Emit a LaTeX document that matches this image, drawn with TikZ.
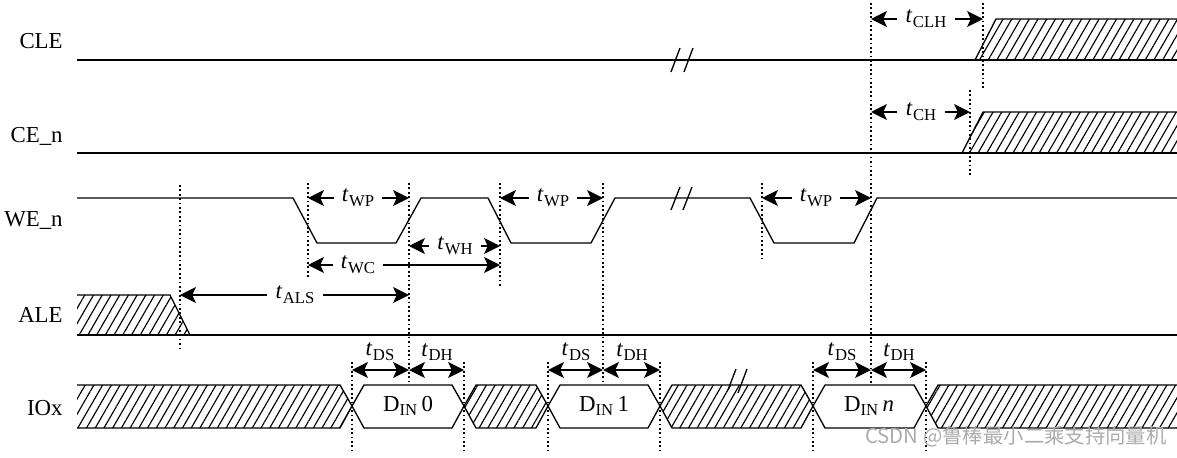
\documentclass[tikz,border=0pt]{standalone}
\usepackage{fontspec}
\setmainfont{Liberation Serif}
\newfontfamily\cjkfont{Noto Sans CJK SC}
\usetikzlibrary{arrows.meta,patterns.meta}

\newcommand{\tsub}[1]{\textit{t}\kern0.3pt\raisebox{-0.45ex}{\fontsize{9.5}{10}\selectfont #1}}
\newcommand{\din}[1]{D\raisebox{-0.45ex}{\fontsize{9.5}{10}\selectfont IN}\kern2.5pt#1}

\tikzset{
	wave/.style={line width=0.75pt},
	busline/.style={line width=1.5pt},
	tmark/.style={line width=1.1pt, dash pattern=on 1pt off 1.5pt},
	hatched/.style={pattern={Lines[angle=60,distance=4.3pt,line width=0.65pt]}},
	dimarrow/.style={line width=1.2pt, -{Stealth[length=9pt,width=9pt,inset=2pt]}},
	dimboth/.style={line width=1.2pt, {Stealth[length=9pt,width=9pt,inset=2pt]}-{Stealth[length=9pt,width=9pt,inset=2pt]}},
	signame/.style={anchor=base east, inner xsep=0pt, font=\fontsize{13}{15}\selectfont},
	tlabel/.style={inner xsep=4.5pt, inner ysep=1pt, font=\fontsize{13}{15}\selectfont}
}

\begin{document}
\begin{tikzpicture}[x=0.02cm, y=-0.02cm]
	\useasboundingbox (0,0) rectangle (1177,457);

	% Signal names
	\node[signame] (cle) at (63,48) {CLE};
	\node[signame] (cen) at (63,142) {CE\_n};
	\node[signame] (wen) at (63,226) {WE\_n};
	\node[signame] (ale) at (63,322) {ALE};
	\node[signame] (iox) at (63,415) {IOx};

	% Timing marks
	\coordinate (mA) at (180,0);
	\coordinate (mB) at (308,0);
	\coordinate (mC) at (409,0);
	\coordinate (mD) at (500,0);
	\coordinate (mE) at (603,0);
	\coordinate (mF) at (762,0);
	\coordinate (mG) at (871,0);
	\coordinate (mH) at (983,0);
	\coordinate (mI) at (970,0);

	% CLE: low, then don't care
	\fill[hatched] (975,60) -- (996,19) -- (1177,19) -- (1177,60) -- cycle;
	\draw[wave] (975,60) -- (996,19) -- (1177,19);
	\draw[busline] (77,60) -- (1177,60);
	\draw[wave] (671,72) -- (680,48);
	\draw[wave] (684,72) -- (693,48);

	% CE_n: low, then don't care
	\fill[hatched] (962,153) -- (983,112) -- (1177,112) -- (1177,153) -- cycle;
	\draw[wave] (962,153) -- (983,112) -- (1177,112);
	\draw[busline] (77,153) -- (1177,153);

	% WE_n: write pulses
	\draw[wave] (77,198) -- (293,198) -- (317,243) -- (396,243) -- (421,198) -- (488,198)
		-- (511,243) -- (591,243) -- (615,198) -- (750,198) -- (774,243) -- (854,243)
		-- (877,198) -- (1177,198);
	\draw[wave] (671,210) -- (680,187);
	\draw[wave] (683,210) -- (692,187);

	% ALE: don't care, then low
	\fill[hatched] (77,295) -- (170,295) -- (190,335) -- (77,335) -- cycle;
	\draw[wave] (77,295) -- (170,295) -- (190,335);
	\draw[busline] (77,335) -- (1177,335);

	% IOx: don't care between data words
	\fill[hatched] (77,385) -- (340,385) -- (352,406) -- (340,428) -- (77,428) -- cycle;
	\draw[wave] (77,385) -- (340,385) -- (352,406) -- (340,428) -- (77,428);
	\foreach \a/\b in {464/548, 660/813} {
		\fill[hatched] (\a,406) -- (\a+12,385) -- (\b-12,385) -- (\b,406) -- (\b-12,428) -- (\a+12,428) -- cycle;
		\draw[wave] (\a,406) -- (\a+12,385) -- (\b-12,385) -- (\b,406) -- (\b-12,428) -- (\a+12,428) -- cycle;
	}
	\fill[hatched] (1177,385) -- (938,385) -- (926,406) -- (938,428) -- (1177,428) -- cycle;
	\draw[wave] (1177,385) -- (938,385) -- (926,406) -- (938,428) -- (1177,428);
	\foreach \a/\b in {352/464, 548/660, 813/926} {
		\fill[white] (\a,406) -- (\a+12,385) -- (\b-12,385) -- (\b,406) -- (\b-12,428) -- (\a+12,428) -- cycle;
		\draw[wave] (\a,406) -- (\a+12,385) -- (\b-12,385) -- (\b,406) -- (\b-12,428) -- (\a+12,428) -- cycle;
	}
	\draw[wave] (728,390) -- (736,369);
	\draw[wave] (738,393) -- (747,369);

	% Data words
	\node (din0) at (408,406) {\fontsize{13}{15}\selectfont\din{0}};
	\node (din1) at (604,406) {\fontsize{13}{15}\selectfont\din{1}};
	\node (dinn) at (869,406) {\fontsize{13}{15}\selectfont\din{\textit{n}}};

	% Dotted reference lines
	\draw[tmark] (180,185) -- (180,350);
	\draw[tmark] (308,183) -- (308,278);
	\draw[tmark] (409,183) -- (409,385);
	\draw[tmark] (500,183) -- (500,286);
	\draw[tmark] (603,183) -- (603,385);
	\draw[tmark] (762,183) -- (762,262);
	\draw[tmark] (871,3) -- (871,385);
	\draw[tmark] (983,3) -- (983,90);
	\draw[tmark] (970,90) -- (970,175);
	\foreach \x in {352,464,548,660,813,926}
		\draw[tmark] (\x,362) -- (\x,450);

	% Timing parameters
	\node[tlabel] (tclh) at (926,19) {\tsub{CLH}};
	\draw[dimarrow] (tclh.west) -- (tclh.west -| mG);
	\draw[dimarrow] (tclh.east) -- (tclh.east -| mH);

	\node[tlabel] (tch) at (921,112) {\tsub{CH}};
	\draw[dimarrow] (tch.west) -- (tch.west -| mG);
	\draw[dimarrow] (tch.east) -- (tch.east -| mI);

	\node[tlabel] (twpa) at (358,198) {\tsub{WP}};
	\draw[dimarrow] (twpa.west) -- (twpa.west -| mB);
	\draw[dimarrow] (twpa.east) -- (twpa.east -| mC);

	\node[tlabel] (twh) at (455,246) {\tsub{WH}};
	\draw[dimarrow] (twh.west) -- (twh.west -| mC);
	\draw[dimarrow] (twh.east) -- (twh.east -| mD);

	\node[tlabel] (twc) at (358,265) {\tsub{WC}};
	\draw[dimarrow] (twc.west) -- (twc.west -| mB);
	\draw[dimarrow] (twc.east) -- (twc.east -| mD);

	\node[tlabel] (twpb) at (553,198) {\tsub{WP}};
	\draw[dimarrow] (twpb.west) -- (twpb.west -| mD);
	\draw[dimarrow] (twpb.east) -- (twpb.east -| mE);

	\node[tlabel] (twpc) at (816,198) {\tsub{WP}};
	\draw[dimarrow] (twpc.west) -- (twpc.west -| mF);
	\draw[dimarrow] (twpc.east) -- (twpc.east -| mG);

	\node[tlabel] (tals) at (295,295) {\tsub{ALS}};
	\draw[dimarrow] (tals.west) -- (tals.west -| mA);
	\draw[dimarrow] (tals.east) -- (tals.east -| mC);

	% Data setup / hold
	\foreach \n/\x in {a/352,b/409,c/464,d/548,e/603,f/660,g/813,h/871,i/926}
		\coordinate (io\n) at (\x,370);
	\draw[dimboth] (ioa) -- (iob);
	\draw[dimboth] (iob) -- (ioc);
	\draw[dimboth] (iod) -- (ioe);
	\draw[dimboth] (ioe) -- (iof);
	\draw[dimboth] (iog) -- (ioh);
	\draw[dimboth] (ioh) -- (ioi);
	\node[tlabel] (tdsa) at (380,352) {\tsub{DS}};
	\node[tlabel] (tdha) at (437,352) {\tsub{DH}};
	\node[tlabel] (tdsb) at (576,352) {\tsub{DS}};
	\node[tlabel] (tdhb) at (632,352) {\tsub{DH}};
	\node[tlabel] (tdsc) at (842,352) {\tsub{DS}};
	\node[tlabel] (tdhc) at (899,352) {\tsub{DH}};

	% Watermark
	\node[text=black!33, font=\cjkfont\fontsize{11.6}{14}\selectfont] (wm) at (1016,437) {CSDN @鲁棒最小二乘支持向量机};
\end{tikzpicture}
\end{document}
